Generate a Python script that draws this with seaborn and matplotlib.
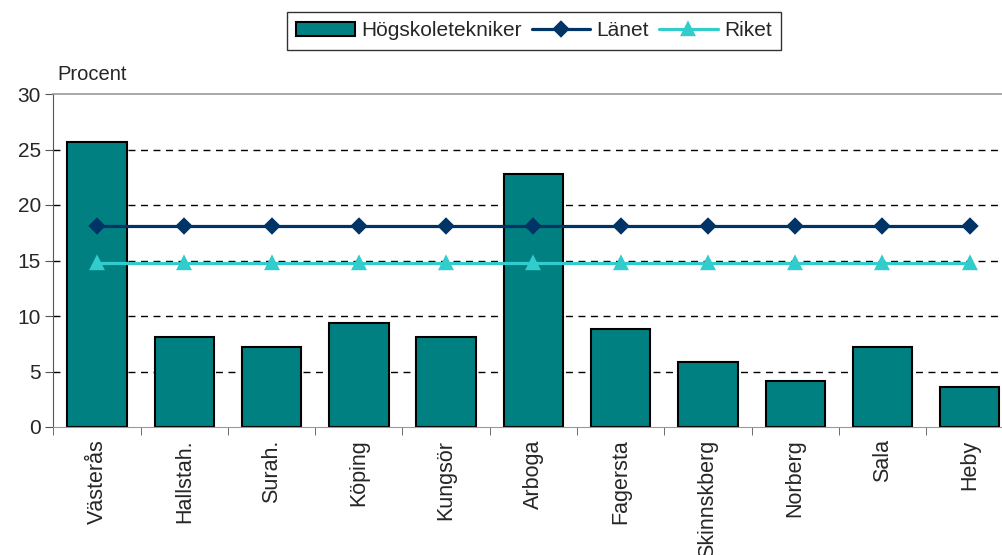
import matplotlib
matplotlib.use("Agg")
import matplotlib.pyplot as plt
import seaborn as sns

# Data
kommuner = ["Västerås", "Hallstah.", "Surah.", "Köping", "Kungsör", "Arboga",
            "Fagersta", "Skinnskberg", "Norberg", "Sala", "Heby"]
hogskoletekniker = [25.7, 8.1, 7.2, 9.4, 8.1, 22.8, 8.8, 5.9, 4.1, 7.2, 3.6]
lanet = [18.1] * 11
riket = [14.8] * 11

sns.set_style("white")
plt.rcParams["font.family"] = ["Liberation Sans", "DejaVu Sans"]

fig = plt.figure(figsize=(10.03, 5.55), dpi=100)
ax = fig.add_axes([53.4 / 1003, 1 - 427 / 555, 960 / 1003, 333 / 555])

sns.barplot(x=kommuner, y=hogskoletekniker, color="#008080", saturation=1,
            edgecolor="black", linewidth=1.5, width=0.68, ax=ax,
            label="Högskoletekniker", zorder=2)
sns.pointplot(x=kommuner, y=lanet, color="#003366", markers="D",
              markersize=7.5, linewidth=2.3, ax=ax, label="Länet", zorder=4)
sns.pointplot(x=kommuner, y=riket, color="#33CCCC", markers="^",
              markersize=8, linewidth=2.3, ax=ax, label="Riket", zorder=3)

ax.set_ylim(0, 30)
ax.set_xlim(-0.5, 10.5)
ax.set_yticks(range(0, 31, 5))
for v in range(5, 30, 5):
    ax.axhline(v, color="black", lw=1, ls=(0, (5, 4)), zorder=1)

ax.spines["right"].set_visible(False)
ax.spines["top"].set_color("#999999")
ax.spines["left"].set_color("#555555")
ax.spines["bottom"].set_color("#999999")
ax.spines["top"].set_linewidth(1.2)

ax.set_xticks([i + 0.5 for i in range(-1, 11)], minor=True)
ax.tick_params(axis="x", which="major", length=0, pad=9, labelsize=15.5,
               labelrotation=90)
ax.tick_params(axis="x", which="minor", length=6, color="#555555",
               direction="out", bottom=True)
ax.tick_params(axis="y", length=6, direction="out", left=True,
               color="#555555", labelsize=15, pad=3)
ax.set_xlabel("")
ax.set_ylabel("")
ax.text(0.004, 1.03, "Procent", transform=ax.transAxes, fontsize=14.5,
        ha="left", va="bottom")

ax.get_legend().remove()
handles, labels = ax.get_legend_handles_labels()
order = [labels.index(n) for n in ["Högskoletekniker", "Länet", "Riket"]]
fig.legend([handles[i] for i in order], [labels[i] for i in order],
           loc="upper center", ncol=3,
           bbox_to_anchor=(534 / 1003, 1 - 12 / 555), frameon=True,
           fancybox=False, edgecolor="black", fontsize=15, handlelength=2.8,
           columnspacing=0.5, handletextpad=0.3, borderpad=0.45,
           borderaxespad=0)

fig.savefig("out.png", dpi=100)
